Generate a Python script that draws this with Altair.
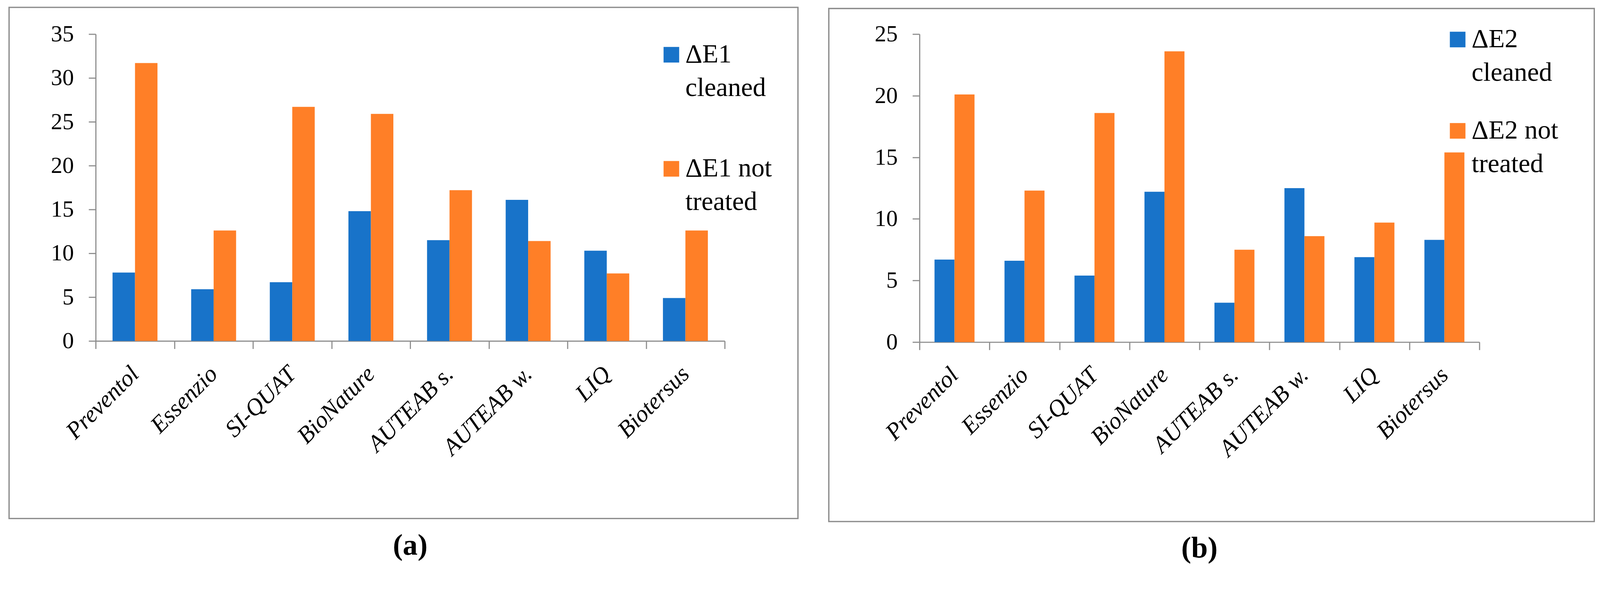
import altair as alt
import pandas as pd

categories = ["Preventol", "Essenzio", "SI-QUAT", "BioNature",
              "AUTEAB s.", "AUTEAB w.", "LIQ", "Biotersus"]

e1_cleaned = [7.8, 5.9, 6.7, 14.8, 11.5, 16.1, 10.3, 4.9]
e1_not_treated = [31.7, 12.6, 26.7, 25.9, 17.2, 11.4, 7.7, 12.6]
e2_cleaned = [6.7, 6.6, 5.4, 12.2, 3.2, 12.5, 6.9, 8.3]
e2_not_treated = [20.1, 12.3, 18.6, 23.6, 7.5, 8.6, 9.7, 15.4]

series_a = ["ΔE1|cleaned", "ΔE1 not|treated"]
series_b = ["ΔE2|cleaned", "ΔE2 not|treated"]

y_ticks_a = [0, 5, 10, 15, 20, 25, 30, 35]
y_ticks_b = [0, 5, 10, 15, 20, 25]

BLUE = "#1873C9"
ORANGE = "#FF7F27"
GRAY = "#8C8C8C"
FONT = "Liberation Serif"


def panel(cleaned, not_treated, series, ticks, W, H, frame,
          legend_x, legend_y, row_pad, caption):
    n = len(categories)
    df = pd.DataFrame({
        "category": categories + categories,
        "series": [series[0]] * n + [series[1]] * n,
        "value": cleaned + not_treated,
    })
    bars = alt.Chart(df).mark_bar().encode(
        x=alt.X("category:N", sort=categories,
                scale=alt.Scale(paddingInner=0, paddingOuter=0),
                axis=alt.Axis(title=None, labelAngle=-45, labelAlign="right",
                              labelBaseline="middle", labelFont=FONT,
                              labelFontSize=64, labelFontStyle="italic",
                              labelColor="black", labelPadding=58,
                              tickBand="extent", tickSize=21, tickWidth=3,
                              tickColor=GRAY, domainColor=GRAY, domainWidth=3,
                              labelLimit=1000, labelOverlap=False)),
        xOffset=alt.XOffset("series:N", sort=series,
                            scale=alt.Scale(paddingOuter=0.75, paddingInner=0)),
        y=alt.Y("value:Q",
                scale=alt.Scale(domain=[ticks[0], ticks[-1]], nice=False),
                axis=alt.Axis(title=None, values=ticks, labelFont=FONT,
                              labelFontSize=62, labelColor="black",
                              labelPadding=40, tickSize=19, tickWidth=3,
                              tickColor=GRAY, domainColor=GRAY, domainWidth=3,
                              grid=False)),
        color=alt.Color("series:N", sort=series,
                        scale=alt.Scale(domain=series, range=[BLUE, ORANGE]),
                        legend=alt.Legend(title=None, orient="none",
                                          legendX=legend_x, legendY=legend_y,
                                          symbolType="square", symbolSize=1764,
                                          symbolStrokeWidth=0, labelFont=FONT,
                                          labelFontSize=71, labelColor="black",
                                          labelLimit=2000, labelOffset=2,
                                          labelBaseline="middle",
                                          labelExpr="split(datum.label, '|')",
                                          rowPadding=row_pad, padding=0)),
    )
    box = alt.Chart(pd.DataFrame({"k": [0]})).mark_rect(
        fillOpacity=0, stroke=GRAY, strokeWidth=3.5
    ).encode(
        x=alt.value(frame[0]), x2=alt.value(frame[1]),
        y=alt.value(frame[2]), y2=alt.value(frame[3]),
    )
    return alt.layer(box, bars).properties(
        width=W, height=H,
        title=alt.TitleParams(text=caption, orient="bottom", anchor="middle",
                              font=FONT, fontSize=80, fontWeight="bold",
                              color="black", offset=32),
    )


pa = panel(e1_cleaned, e1_not_treated, series_a, y_ticks_a, 1692, 826,
           (-233, 1889, -72, 1304), 1513, 20, 145, "(a)")
pb = panel(e2_cleaned, e2_not_treated, series_b, y_ticks_b, 1506, 829,
           (-244, 1815, -69, 1312), 1412, -21, 84, "(b)")

chart = alt.hconcat(pa, pb, spacing=79).resolve_scale(
    x="independent", y="independent", color="independent", xOffset="independent"
).resolve_legend(color="independent").configure(
    padding={"left": 14, "top": -28, "right": 5, "bottom": 5},
    background="white",
    style={"guide-label": {"lineHeight": 90}},
).configure_view(stroke=None)

chart.save("out.html", embed_options={"renderer": "svg", "actions": False})
